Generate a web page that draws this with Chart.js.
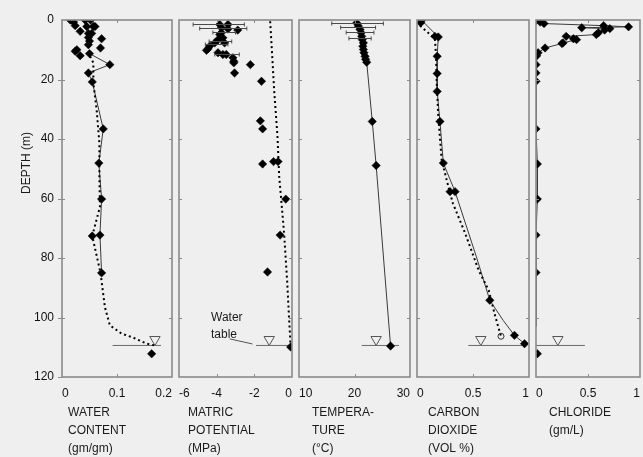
<!DOCTYPE html>
<html><head><meta charset="utf-8">
<script src="https://cdn.jsdelivr.net/npm/chart.js@4"></script>
<style>
html,body{margin:0;padding:0;background:#efefef;}
#wrap{position:relative;width:643px;height:457px;overflow:hidden;background:#efefef;}
canvas{position:absolute;top:0;}
</style></head><body>
<div id="wrap">
<canvas id="c1" width="212" height="457" style="left:0px"></canvas>
<canvas id="c2" width="173" height="457" style="left:159px"></canvas>
<canvas id="c3" width="171" height="457" style="left:279px"></canvas>
<canvas id="c4" width="172" height="457" style="left:397px"></canvas>
<canvas id="c5" width="164" height="457" style="left:516px"></canvas>
</div>
<script>
const FONT = '"Liberation Sans", Arial, sans-serif';
const DEPTH_TICKS = [0,20,40,60,80,100,120];
const WATER_TABLE_DEPTH = 109.4;
const WATER_TABLE_MARK_DEPTH = 107.4;

// ---- Panel 1: water content (gm/gm)
const wcTicks = [0,0.1,0.2];
const wcPointDepth = [0,0.7,1.9,0,0,2.2,2.2,2.2,3.8,4.5,4.5,5.9,7.1,6.3,8.3,9.4,10,10.5,12,11.3,15,17.8,20.8,36.6,48.1,60.2,72.6,72.3,85,112.2];
const wcPointValue = [0.015,0.021,0.024,0.042,0.052,0.045,0.057,0.060,0.033,0.048,0.054,0.048,0.050,0.072,0.048,0.070,0.027,0.024,0.033,0.050,0.087,0.048,0.055,0.075,0.067,0.072,0.055,0.069,0.072,0.163];
const wcSolidDepth = [11.3,15,17.8,20.8,36.6,48.1,60.2,72.3,85];
const wcSolidValue = [0.050,0.087,0.048,0.055,0.075,0.067,0.072,0.069,0.072];
const wcDottedDepth = [12.2,14.4,21.2,30.2,41.4,52.6,62.8,72.6,85,96.5,102.6,105.4,106.8,108.8,109.4];
const wcDottedValue = [0.051,0.057,0.057,0.063,0.068,0.068,0.069,0.055,0.070,0.078,0.087,0.108,0.130,0.154,0.169];
const wcTableX = [0.092,0.18];
const wcTableMark = 0.169;

// ---- Panel 2: matric potential (MPa)
const mpTicks = [-6,-4,-2,0];
const mpPointDepth = [1.5,1.5,2.6,3.0,3.4,4.3,4.9,6.0,6.6,7.7,7.7,8.8,9.7,10.2,11,11.6,11.6,12.7,13.9,14.4,15,17.8,20.6,33.9,36.6,48.4,47.6,47.6,60.2,72.3,84.7,109.9];
const mpPointValue = [-3.84,-3.4,-3.75,-3.4,-2.88,-3.75,-3.84,-3.67,-3.93,-4.1,-3.58,-4.37,-4.46,-4.54,-3.93,-3.67,-3.49,-3.14,-3.09,-3.09,-2.21,-3.05,-1.62,-1.68,-1.56,-1.56,-0.98,-0.74,-0.33,-0.63,-1.3,-0.07];
const mpDottedDepth = [0.4,13.3,23.4,39.2,52.6,62.8,71.7,88.6,99.8,110];
const mpDottedValue = [-1.16,-1.04,-0.95,-0.77,-0.68,-0.54,-0.42,-0.25,-0.16,-0.07];
const mpErrDepth = [1.5,2.6,4.0,7.0,8.2,11.3];
const mpErrLow = [-5.25,-4.9,-4.2,-4.4,-4.6,-4.1];
const mpErrHigh = [-2.53,-2.4,-3.0,-3.2,-3.4,-2.8];
const mpTableX = [-1.91,-0.07];
const mpTableMark = -1.21;

// ---- Panel 3: temperature (°C)
const tpTicks = [10,20,30];
const tpPointDepth = [1,2,3.2,4.3,5.5,6.6,7.7,8.8,9.9,11,12.2,13.2,14.2,34.1,48.9,109.6];
const tpPointValue = [20.4,20.7,21,21.2,21.3,21.4,21.6,21.5,21.6,21.7,21.9,22,22.2,23.2,23.9,26.5];
const tpErrDepth = [1.0,2.5,4.0,6.0];
const tpErrLow = [15.9,17.5,18.5,19];
const tpErrHigh = [25.2,23.8,23.5,23];
const tpTableX = [21.3,28.0];
const tpTableMark = 23.9;

// ---- Panel 4: carbon dioxide (VOL %)
const co2Ticks = [0,0.5,1];
const co2PointDepth = [0.1,0.9,5.5,5.7,12.2,18,24,34.1,48.1,57.7,57.7,94.2,106,108.8];
const co2PointValue = [0.042,0.033,0.16,0.19,0.18,0.18,0.18,0.205,0.235,0.295,0.34,0.65,0.87,0.96];
const co2OpenDepth = [106.3];
const co2OpenValue = [0.75];
const co2SolidDepth = [0.1,5.7,12.2,18,24,34.1,48.1,57.7,79.6,94.2,101,106,108.8];
const co2SolidValue = [0.042,0.19,0.18,0.18,0.18,0.205,0.235,0.34,0.53,0.65,0.77,0.87,0.96];
const co2DottedDepth = [1.9,6.3,12,20,32.4,47,56,61.6,71.7,84.1,90.8,99.8,106.3];
const co2DottedValue = [0.027,0.16,0.17,0.175,0.19,0.22,0.28,0.32,0.43,0.55,0.64,0.70,0.75];
const co2TableX = [0.458,0.964];
const co2TableMark = 0.57;

// ---- Panel 5: chloride (gm/L)
const clTicks = [0,0.5,1];
const clPointDepth = [0.2,0.7,1.2,1.9,2.3,2.6,2.9,3.4,4.3,4.9,5.5,6.3,6.6,7.7,7.9,9.4,11,12,15,17.8,20.6,36.6,48.4,60.2,72.3,84.9,112.2];
const clPointValue = [0,0.04,0.077,0.65,0.89,0.44,0.71,0.66,0.6,0.58,0.29,0.36,0.39,0.26,0.25,0.087,0.02,0.007,0,0,0,0,0.013,0.013,0,0,0.013];
const clSolidDepth = [0.2,0.7,1.2,1.9,2.3,2.6,2.9,3.4,4.3,4.9,5.5,6.3,6.6,7.7,7.9,9.4,11,12,15,17.8,20.6,36.6,48.4,60.2,72.3,84.9,103];
const clSolidValue = [0,0.04,0.077,0.65,0.89,0.44,0.71,0.66,0.6,0.58,0.29,0.36,0.39,0.26,0.25,0.087,0.02,0.007,0,0,0,0,0.013,0.013,0,0,0];
const clTableX = [0,0.47];
const clTableMark = 0.21;

function zip(vals, depths){ return vals.map((v,i)=>({x:v,y:depths[i]})); }

function pointsDs(vals, depths){
  return {data:zip(vals,depths), showLine:false, pointStyle:'rectRot', pointRadius:4.2,
    pointBackgroundColor:'#000', pointBorderColor:'#000', pointBorderWidth:0.5, order:0};
}
function solidDs(vals, depths){
  return {data:zip(vals,depths), showLine:true, borderColor:'#3a3a3a', borderWidth:1, pointRadius:0, tension:0, order:2};
}
function dottedDs(vals, depths){
  return {data:zip(vals,depths), showLine:true, borderColor:'#000', borderWidth:2, borderDash:[2,3], pointRadius:0, tension:0, order:1};
}
function tableDs(xs){
  return {data:xs.map(v=>({x:v,y:WATER_TABLE_DEPTH})), showLine:true, borderColor:'#6a6a6a', borderWidth:1, pointRadius:0, order:3};
}
function markDs(x){
  return {data:[{x:x,y:WATER_TABLE_MARK_DEPTH}], showLine:false, pointStyle:'triangle', rotation:180, pointRadius:6,
    pointBackgroundColor:'rgba(0,0,0,0)', pointBorderColor:'#555', pointBorderWidth:1, order:3};
}

const framePlugin = {
  id:'frame',
  afterDraw(chart){
    const {ctx, chartArea:a, scales} = chart;
    const p = chart.options.plugins.frame;
    ctx.save();
    if (p.err){
      ctx.strokeStyle = '#4a4a4a'; ctx.lineWidth = 1;
      p.err.depth.forEach((d,i)=>{
        const y = Math.round(scales.y.getPixelForValue(d))+0.5;
        const x1 = scales.x.getPixelForValue(p.err.lo[i]);
        const x2 = scales.x.getPixelForValue(p.err.hi[i]);
        ctx.beginPath(); ctx.moveTo(x1,y); ctx.lineTo(x2,y);
        ctx.moveTo(x1,y-2); ctx.lineTo(x1,y+2);
        ctx.moveTo(x2,y-2); ctx.lineTo(x2,y+2);
        ctx.stroke();
      });
    }
    ctx.strokeStyle = '#8a8a8a'; ctx.lineWidth = 1.6;
    ctx.strokeRect(a.left, a.top, a.right-a.left, a.bottom-a.top);
    ctx.lineWidth = 1;
    ctx.beginPath();
    DEPTH_TICKS.slice(1,-1).forEach(d=>{
      const y = Math.round(scales.y.getPixelForValue(d))+0.5;
      ctx.moveTo(a.left, y); ctx.lineTo(a.left+3, y);
      ctx.moveTo(a.right, y); ctx.lineTo(a.right-3, y);
      if (p.first){ ctx.moveTo(a.left, y); ctx.lineTo(a.left-4, y); }
    });
    if (p.first){
      const y = Math.round(scales.y.getPixelForValue(120))+0.5;
      ctx.moveTo(a.left, y); ctx.lineTo(a.left-4, y);
    }
    p.ticks.slice(1,-1).forEach(v=>{
      const x = Math.round(scales.x.getPixelForValue(v))+0.5;
      ctx.moveTo(x, a.top); ctx.lineTo(x, a.top+3);
      ctx.moveTo(x, a.bottom); ctx.lineTo(x, a.bottom-3);
    });
    ctx.stroke();
    ctx.fillStyle = '#1a1a1a';
    ctx.font = '12px ' + FONT;
    ctx.textAlign = 'left'; ctx.textBaseline = 'middle';
    p.title.forEach((t,i)=>{ ctx.fillText(t, a.left + p.titleDx, 413 + i*18); });
    if (p.first){
      ctx.save();
      ctx.translate(27, 163); ctx.rotate(-Math.PI/2);
      ctx.textAlign = 'center';
      ctx.fillText('DEPTH (m)', 0, 0);
      ctx.restore();
    }
    if (p.note){
      const xl = scales.x.getPixelForValue(p.note.x);
      ctx.fillText(p.note.lines[0], xl, scales.y.getPixelForValue(p.note.depth));
      ctx.fillText(p.note.lines[1], xl, scales.y.getPixelForValue(p.note.depth)+17);
      ctx.strokeStyle = '#555'; ctx.lineWidth = 1;
      ctx.beginPath();
      ctx.moveTo(scales.x.getPixelForValue(p.note.leader[0]), scales.y.getPixelForValue(p.note.leader[1]));
      ctx.lineTo(scales.x.getPixelForValue(p.note.leader[2]), scales.y.getPixelForValue(p.note.leader[3]));
      ctx.stroke();
    }
    ctx.restore();
  }
};

function makeChart(id, cfg){
  const first = !!cfg.first;
  const canvas = document.getElementById(id);
  const padL = first ? 0 : 20;
  const axisW = first ? 62 : 0;
  new Chart(canvas, {
    type:'line',
    data:{datasets:cfg.datasets},
    options:{
      responsive:false, animation:false, events:[],
      layout:{padding:{top:20, left:padL, right: canvas.width - padL - axisW - cfg.boxW, bottom:0}},
      plugins:{legend:{display:false}, tooltip:{enabled:false},
        frame:{ticks:cfg.ticks, title:cfg.title, titleDx:cfg.titleDx, first:first, err:cfg.err, note:cfg.note}},
      scales:{
        x:{type:'linear', min:cfg.min, max:cfg.max, position:'bottom',
          afterBuildTicks:s=>{ s.ticks = cfg.ticks.map(v=>({value:v})); },
          afterFit:s=>{ s.height = 80; },
          grid:{display:false, drawTicks:false}, border:{display:false},
          ticks:{align:'inner', autoSkip:false, maxRotation:0, padding:9, color:'#111',
            font:{family:FONT, size:12}, callback:v=>String(v)}},
        y:{type:'linear', reverse:true, min:0, max:120, display:first,
          afterBuildTicks:s=>{ s.ticks = DEPTH_TICKS.map(v=>({value:v})); },
          afterFit:s=>{ s.width = axisW; },
          grid:{display:false, drawTicks:false}, border:{display:false},
          ticks:{padding:8, color:'#111', font:{family:FONT, size:12}, callback:v=>String(v)}}
      }
    },
    plugins:[framePlugin]
  });
}

makeChart('c1', {first:true, boxW:110, min:0, max:0.2, ticks:wcTicks, title:['WATER','CONTENT','(gm/gm)'], titleDx:6,
  datasets:[pointsDs(wcPointValue,wcPointDepth), solidDs(wcSolidValue,wcSolidDepth), dottedDs(wcDottedValue,wcDottedDepth), tableDs(wcTableX), markDs(wcTableMark)]});
makeChart('c2', {boxW:113, min:-6, max:0, ticks:mpTicks, title:['MATRIC','POTENTIAL','(MPa)'], titleDx:9,
  err:{depth:mpErrDepth, lo:mpErrLow, hi:mpErrHigh},
  note:{lines:['Water','table'], x:-4.3, depth:100, leader:[-3.3,107.2,-2.1,108.9]},
  datasets:[pointsDs(mpPointValue,mpPointDepth), dottedDs(mpDottedValue,mpDottedDepth), tableDs(mpTableX), markDs(mpTableMark)]});
makeChart('c3', {boxW:111, min:10, max:30, ticks:tpTicks, title:['TEMPERA-','TURE','(\u00B0C)'], titleDx:13,
  err:{depth:tpErrDepth, lo:tpErrLow, hi:tpErrHigh},
  datasets:[pointsDs(tpPointValue,tpPointDepth), solidDs(tpPointValue,tpPointDepth), tableDs(tpTableX), markDs(tpTableMark)]});
makeChart('c4', {boxW:112, min:0, max:1, ticks:co2Ticks, title:['CARBON','DIOXIDE','(VOL %)'], titleDx:11,
  datasets:[pointsDs(co2PointValue,co2PointDepth),
    {data:zip(co2OpenValue,co2OpenDepth), showLine:false, pointStyle:'circle', pointRadius:3, pointBackgroundColor:'rgba(0,0,0,0)', pointBorderColor:'#333', pointBorderWidth:1, order:0},
    solidDs(co2SolidValue,co2SolidDepth), dottedDs(co2DottedValue,co2DottedDepth), tableDs(co2TableX), markDs(co2TableMark)]});
makeChart('c5', {boxW:104, min:0, max:1, ticks:clTicks, title:['CHLORIDE','(gm/L)'], titleDx:13,
  datasets:[pointsDs(clPointValue,clPointDepth), solidDs(clSolidValue,clSolidDepth), tableDs(clTableX), markDs(clTableMark)]});
</script>
</body></html>
